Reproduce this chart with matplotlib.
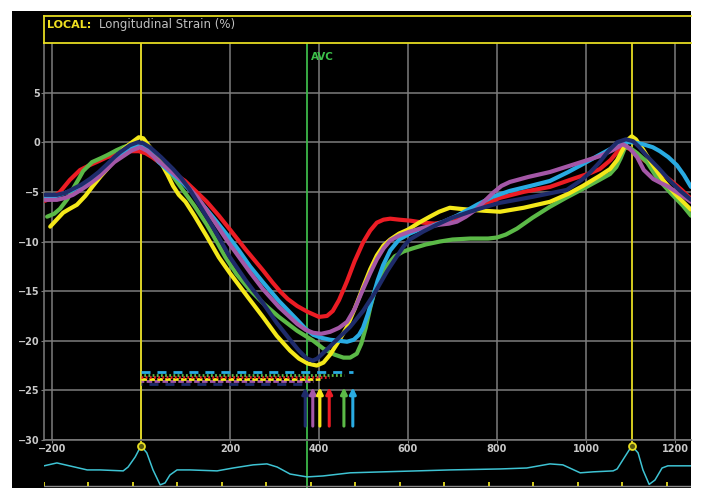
import numpy as np
import matplotlib
matplotlib.use("Agg")
import matplotlib.pyplot as plt
from matplotlib.patches import Rectangle
from matplotlib.lines import Line2D

plt.rcParams['font.family'] = ['DejaVu Sans']
plt.rcParams['lines.scale_dashes'] = False

# segment strain curves (time in ms, strain in %)
yellow_x = [-204, -175, -160, -144, -125, -108, -90, -76, -60, -40, -20, -5, 5, 20, 43, 60, 72, 85, 100, 120,
            148, 175, 200, 240, 274, 305, 335, 355, 375, 395, 410, 425, 445, 463, 480, 499, 515, 530, 545, 560,
            580, 600, 625, 649, 670, 694, 715, 739, 770, 807, 860, 919, 960, 993, 1030, 1054, 1070, 1083, 1095,
            1103, 1112, 1128, 1150, 1173, 1200, 1236]
yellow_y = [-8.5, -7.1, -6.7, -6.3, -5.4, -4.4, -3.4, -2.7, -1.8, -0.7, 0.0, 0.5, 0.4, -0.5, -1.9, -3.3, -4.4, -5.3, -6.0, -7.4,
            -9.5, -11.6, -13.2, -15.6, -17.6, -19.5, -21.0, -21.8, -22.3, -22.5, -22.2, -21.4, -20.0, -18.6, -16.8, -14.6, -12.8, -11.4, -10.4, -9.8,
            -9.2, -8.8, -8.1, -7.5, -7.0, -6.6, -6.7, -6.8, -6.9, -7.0, -6.6, -6.0, -5.2, -4.4, -3.4, -2.7, -1.8, -0.7, 0.3,
            0.6, 0.3, -0.7, -2.3, -3.8, -5.2, -6.8]

green_x = [-211, -195, -182, -165, -153, -140, -130, -110, -90, -76, -55, -40, -20, -5, 10, 30, 49, 70, 94, 120,
           148, 170, 190, 215, 245, 274, 310, 351, 387, 410, 435, 455, 470, 485, 495, 505, 515, 525, 537, 553,
           570, 590, 610, 640, 672, 700, 740, 780, 800, 820, 845, 880, 919, 955, 993, 1030, 1054, 1068, 1078, 1088,
           1100, 1115, 1137, 1160, 1190, 1218, 1236]
green_y = [-7.5, -7.2, -6.7, -5.7, -4.7, -3.7, -2.9, -2.0, -1.6, -1.3, -0.8, -0.5, -0.2, -0.2, -0.5, -1.2, -2.1, -3.3, -4.8, -6.4,
           -8.3, -10.0, -11.6, -13.3, -14.9, -16.2, -17.6, -19.0, -20.0, -20.8, -21.4, -21.7, -21.7, -21.3, -20.3, -18.7, -16.7, -15.0, -13.7, -12.4,
           -11.5, -11.0, -10.7, -10.3, -10.0, -9.8, -9.7, -9.7, -9.6, -9.3, -8.7, -7.6, -6.5, -5.6, -4.7, -3.8, -3.2, -2.5, -1.6, -0.5,
           -0.6, -1.1, -2.0, -3.6, -5.1, -6.4, -7.4]

red_x = [-216, -200, -182, -160, -137, -115, -95, -76, -50, -25, -5, 10, 25, 43, 70, 99, 120, 148, 175, 200,
         235, 274, 295, 312, 330, 351, 375, 400, 418, 431, 445, 463, 480, 499, 515, 530, 545, 560, 580, 605,
         634, 660, 688, 710, 739, 770, 807, 860, 919, 970, 1010, 1031, 1055, 1070, 1083, 1095, 1110, 1128, 1160,
         1189, 1215, 1236]
red_y = [-5.9, -5.6, -5.0, -3.8, -2.8, -2.3, -1.9, -1.5, -1.2, -0.9, -0.9, -1.1, -1.5, -2.1, -3.0, -3.9, -4.8, -6.0, -7.4, -8.8,
         -10.8, -12.9, -14.1, -15.0, -15.8, -16.5, -17.1, -17.6, -17.5, -17.0, -15.9, -14.0, -12.0, -10.1, -8.9, -8.1, -7.8, -7.7, -7.8, -7.9,
         -8.1, -8.2, -8.0, -7.6, -7.0, -6.3, -5.6, -5.0, -4.5, -3.7, -3.1, -2.7, -1.8, -1.0, -0.5, -0.6, -1.0, -1.7, -2.8,
         -3.8, -4.8, -5.7]

cyan_x = [-216, -190, -170, -153, -135, -115, -95, -76, -60, -40, -20, -5, 10, 25, 40, 65, 94, 120, 148, 170,
          193, 220, 245, 274, 310, 351, 370, 387, 405, 425, 445, 463, 478, 490, 499, 510, 521, 532, 544, 560,
          580, 604, 625, 649, 680, 710, 735, 755, 790, 829, 875, 919, 960, 993, 1025, 1054, 1070, 1083, 1105,
          1128, 1150, 1166, 1185, 1204, 1220, 1236]
cyan_y = [-5.5, -5.4, -5.1, -4.8, -4.4, -3.8, -3.1, -2.4, -1.8, -1.2, -0.6, -0.3, -0.6, -1.2, -2.0, -3.0, -4.1, -5.3, -6.8, -8.0,
          -9.3, -10.9, -12.5, -14.1, -16.0, -17.9, -18.8, -19.4, -19.7, -19.9, -20.0, -20.1, -19.9, -19.4, -18.7, -17.3, -15.6, -13.9, -12.4, -10.9,
          -9.8, -9.2, -8.8, -8.5, -8.0, -7.4, -6.8, -6.3, -5.5, -4.9, -4.4, -3.9, -3.0, -2.2, -1.4, -0.7, -0.3, 0.0, 0.0,
          -0.2, -0.5, -0.9, -1.5, -2.3, -3.3, -4.5]

purple_x = [-216, -189, -170, -153, -135, -115, -95, -76, -60, -40, -20, -2, 15, 30, 45, 72, 100, 126, 150, 171,
            195, 216, 245, 274, 310, 351, 370, 387, 405, 425, 445, 463, 480, 499, 515, 530, 545, 560, 580, 604,
            635, 672, 692, 710, 730, 755, 775, 791, 810, 829, 870, 919, 975, 1031, 1060, 1083, 1098, 1115, 1130,
            1151, 1168, 1182, 1210, 1236]
purple_y = [-5.8, -5.8, -5.6, -5.3, -4.8, -4.2, -3.5, -2.7, -2.0, -1.4, -0.8, -0.5, -0.9, -1.5, -2.1, -3.1, -4.2, -5.5, -7.0, -8.4,
            -10.0, -11.3, -13.1, -14.8, -16.6, -18.3, -18.9, -19.2, -19.3, -19.1, -18.7, -18.1, -16.8, -14.8, -13.2, -11.8, -10.7, -9.9, -9.4, -9.0,
            -8.6, -8.3, -8.2, -8.0, -7.5, -6.7, -5.8, -5.1, -4.4, -4.0, -3.5, -3.0, -2.2, -1.4, -0.8, -0.2, -0.6, -1.5, -2.8,
            -3.7, -4.1, -4.4, -5.2, -6.0]

navy_x = [-216, -189, -170, -153, -135, -115, -95, -76, -60, -47, -25, -7, 5, 20, 45, 72, 90, 110, 135, 162,
          180, 200, 235, 274, 305, 335, 355, 373, 386, 396, 415, 440, 470, 499, 525, 553, 575, 590, 604, 634,
          665, 694, 739, 775, 807, 880, 957, 990, 1010, 1031, 1050, 1070, 1090, 1106, 1120, 1137, 1163, 1189,
          1212, 1236]
navy_y = [-5.3, -5.3, -5.1, -4.7, -4.3, -3.7, -3.0, -2.2, -1.5, -1.0, -0.3, 0.0, -0.1, -0.5, -1.5, -2.7, -3.6, -4.8, -6.6, -8.6,
          -10.0, -11.6, -13.9, -16.2, -18.2, -19.9, -21.0, -21.8, -22.0, -21.8, -21.0, -19.9, -18.6, -17.0, -15.2, -13.0, -11.5, -10.5, -9.8, -9.0,
          -8.3, -7.7, -7.0, -6.5, -6.1, -5.5, -4.8, -3.8, -3.0, -2.0, -0.9, 0.0, 0.3, 0.1, -0.5, -1.4, -2.6, -3.9,
          -4.9, -5.8]

# time-to-peak markers: arrow position (ms) and dotted bar level (%)
peak_names = ['navy', 'purple', 'yellow', 'red', 'green', 'cyan']
peak_times = [369, 386, 402, 423, 456, 476]
bar_levels = [-24.4, -24.1, -23.9, -23.7, -23.5, -23.1]

# ECG trace (ms, arbitrary amplitude)
ecg_x = [-218, -189, -121, -92, -40, -29, -13, 0, 13, 27, 43, 54, 65, 81, 110, 171, 207, 252, 283, 306, 335,
         373, 409, 470, 544, 620, 694, 807, 867, 919, 948, 987, 1016, 1061, 1070, 1083, 1103, 1117, 1128,
         1142, 1155, 1171, 1184, 1238]
ecg_y = [0.17, 0.29, 0.0, 0.0, -0.04, 0.12, 0.54, 1.0, 0.71, 0.0, -0.62, -0.54, -0.21, 0.0, 0.0, -0.04, 0.08, 0.21, 0.25, 0.12, -0.17,
         -0.29, -0.25, -0.12, -0.08, -0.04, 0.0, 0.04, 0.08, 0.25, 0.21, -0.12, -0.08, -0.04, 0.04, 0.42, 1.0, 0.71, 0.0,
         -0.6, -0.42, 0.08, 0.17, 0.17]
r_peaks = [0, 1103]
avc_time = 373

colors = {'yellow': '#f4e81a', 'green': '#5bb947', 'red': '#ec1c24',
          'cyan': '#29abe2', 'purple': '#a457a7', 'navy': '#1e2b6a'}
curves = [('red', red_x, red_y), ('green', green_x, green_y), ('yellow', yellow_x, yellow_y),
          ('cyan', cyan_x, cyan_y), ('purple', purple_x, purple_y), ('navy', navy_x, navy_y)]

W, H = 701, 491
fig = plt.figure(figsize=(W / 100, H / 100), dpi=100, facecolor='white')


def fx(px):
    return px / W


def fy(py):
    return 1 - py / H


bg = Rectangle((fx(12), fy(488)), fx(691) - fx(12), fy(11) - fy(488),
               transform=fig.transFigure, facecolor='black', edgecolor='none', zorder=-10)
fig.add_artist(bg)

grid_c = '#7c7c7c'
lab_c = '#c8c8c8'
ylw = '#e6dc22'
xlim = (-218, 1236)

ax = fig.add_axes([fx(44), fy(440), fx(691) - fx(44), fy(43) - fy(440)], facecolor='black')
ax.set_xlim(*xlim)
ax.set_ylim(-30, 10)
ax.set_xticks([-200, 200, 400, 600, 800, 1000, 1200])
ax.set_yticks([5, 0, -5, -10, -15, -20, -25, -30])
ax.tick_params(colors=grid_c, labelcolor=lab_c, labelsize=7, length=2, pad=1)
for lab in ax.get_xticklabels() + ax.get_yticklabels():
    lab.set_fontweight('bold')
ax.grid(True, color=grid_c, lw=1.1)
ax.axvline(0, color=grid_c, lw=1.1)
for s in ['left', 'bottom']:
    ax.spines[s].set_color(grid_c)
    ax.spines[s].set_linewidth(1.1)
ax.spines['right'].set_visible(False)
ax.spines['top'].set_color(ylw)
ax.spines['top'].set_linewidth(1.3)

# event lines
for t in r_peaks:
    ax.axvline(t, color=ylw, lw=1.3, zorder=2)
ax.axvline(avc_time, color='#3cb84a', lw=1.3, zorder=2)
ax.text(avc_time + 9, 8.6, 'AVC', color='#3cc04a', fontsize=7.5, fontweight='bold', va='center')

for name, xs, ys in curves:
    ax.plot(xs, ys, color=colors[name], lw=3, solid_joinstyle='round', solid_capstyle='round', zorder=3)

# dotted bars and arrows
bar_styles = {'cyan': (0, (6.5, 5)), 'navy': (5.75, (6.5, 5)), 'yellow': (0, (4, 1.7)),
              'purple': (2, (4, 1.7)), 'red': (0, (1.3, 1.7)), 'green': (1, (1.3, 1.7))}
for name, t, lev in zip(peak_names, peak_times, bar_levels):
    ax.plot([0, t], [lev, lev], color=colors[name], lw=2, linestyle=bar_styles[name], zorder=3)
    ax.annotate('', xy=(t, -24.7), xytext=(t, -28.6),
                arrowprops=dict(arrowstyle='-|>', color=colors[name], lw=2.2, mutation_scale=9,
                                shrinkA=0, shrinkB=0), zorder=4)

# title box
fig.add_artist(Line2D([fx(44), fx(691)], [fy(16), fy(16)], color=ylw, lw=1.3))
fig.add_artist(Line2D([fx(44), fx(44)], [fy(16), fy(43)], color=ylw, lw=1.3))
fig.text(fx(47), fy(24.5), 'LOCAL:', color='#f0e020', fontsize=8, fontweight='bold', va='center')
fig.text(fx(99), fy(24.5), 'Longitudinal Strain (%)', color='#c0c0c0', fontsize=8.5, va='center')

# ECG strip
ex = fig.add_axes([fx(44), fy(488), fx(691) - fx(44), fy(441) - fy(488)], facecolor='none')
ex.set_xlim(*xlim)
ex.set_ylim(-0.75, 1.2)
ex.axis('off')
ex.axvline(avc_time, color='#3cb84a', lw=1.3)
for t in r_peaks:
    ex.plot([t, t], [1.0, 1.2], color=ylw, lw=1.3)
ex.plot(ecg_x, ecg_y, color='#3ec3d3', lw=1.1)
ex.plot(r_peaks, [1.0, 1.0], 'o', ms=5, mfc='#5a5a10', mec=ylw, mew=1.3)
ex.axhline(-0.68, color='#8a8a8a', lw=1.0)
ecg_ticks = np.arange(-218, 1236, 100)
ex.vlines(ecg_ticks, -0.68, -0.5, color=ylw, lw=1.3)

fig.savefig('out.png', dpi=100, facecolor='white')
